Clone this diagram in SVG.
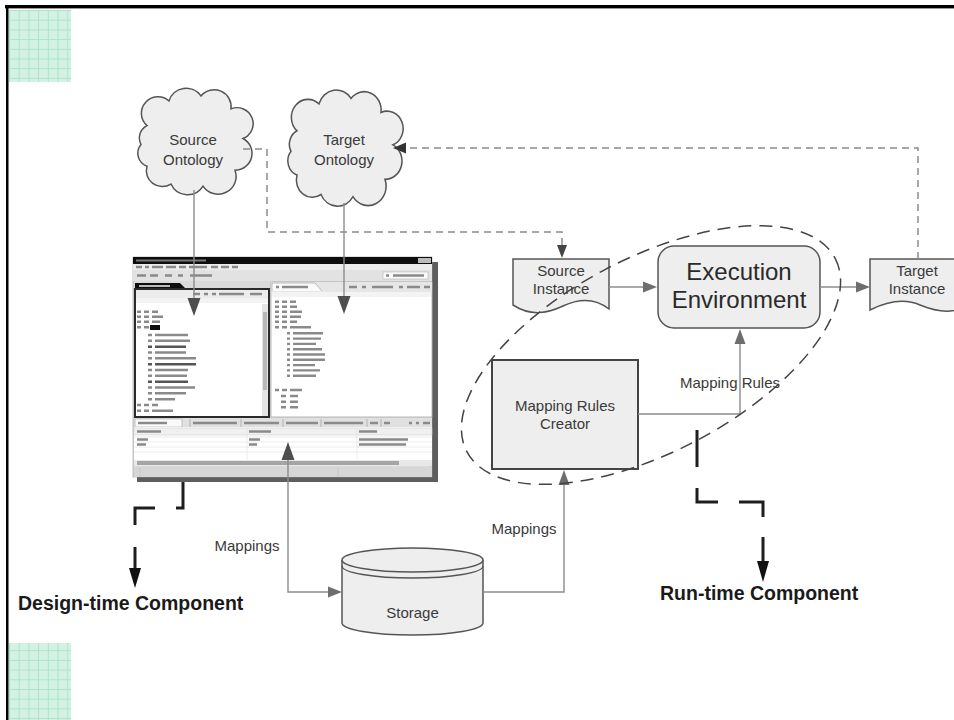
<svg xmlns="http://www.w3.org/2000/svg" width="954" height="720" viewBox="0 0 954 720">
  <style>
    .lbl { font-family: "Liberation Sans", Arial, sans-serif; font-size: 15px; fill: #3a3a3a; text-anchor: middle; }
    .big { font-family: "Liberation Sans", Arial, sans-serif; font-size: 24px; fill: #2a2a2a; text-anchor: middle; }
    .bold { font-family: "Liberation Sans", Arial, sans-serif; font-size: 19.5px; font-weight: bold; fill: #1a1a1a; }
    .shape { fill: #eeeeee; stroke: #555; stroke-width: 1.5; }
    .conn { fill: none; stroke: #8c8c8c; stroke-width: 1.4; }
    .dash { fill: none; stroke: #8c8c8c; stroke-width: 1.5; stroke-dasharray: 7 5; }
    .head { fill: #6e6e6e; }
    .panehead { fill: #4e4e4e; }
    .bighead { fill: #111; }
    .thick { fill: none; stroke: #1e1e1e; stroke-width: 3; }
    .txt { fill: none; stroke: #8a8a8a; stroke-width: 2.4; }
    .txtd { fill: none; stroke: #555; stroke-width: 2.4; }
  </style>
  <defs>
    <pattern id="grid" width="9.7" height="9.7" patternUnits="userSpaceOnUse" x="9" y="10">
      <rect width="9.7" height="9.7" fill="#d3f2e4"/>
      <path d="M0,0.5 H9.7 M0.5,0 V9.7" stroke="#ade3cb" stroke-width="1"/>
    </pattern>
    <filter id="soft" x="-5%" y="-5%" width="110%" height="110%">
      <feGaussianBlur stdDeviation="0.65"/>
    </filter>
    <path id="cloud" d="M8,35 A16,16 0 0 1 30,10 A18,18 0 0 1 62,5 A17,17 0 0 1 92,18 A16,16 0 0 1 104,48 A17,17 0 0 1 96,80 A18,18 0 0 1 64,96 A18,18 0 0 1 32,94 A16,16 0 0 1 8,76 A14,14 0 0 1 2,54 A14,14 0 0 1 8,35 Z"/>
  </defs>

  <!-- page frame and corner tiles -->
  <rect width="954" height="720" fill="#fff"/>
  <rect x="9" y="10" width="62" height="72" fill="url(#grid)"/>
  <rect x="9" y="643" width="62" height="77" fill="url(#grid)"/>
  <rect x="5" y="5" width="949" height="3" fill="#000"/>
  <rect x="5" y="8" width="949" height="1" fill="#999"/>
  <rect x="6" y="5" width="2.5" height="715" fill="#000"/>

  <!-- ontologies -->
  <g id="source-ontology">
    <use href="#cloud" class="shape" transform="translate(139,91) scale(1,0.99)"/>
    <text class="lbl" x="193" y="145">Source</text>
    <text class="lbl" x="193" y="165">Ontology</text>
  </g>
  <g id="target-ontology">
    <use href="#cloud" class="shape" transform="translate(289,93) scale(1,1.08)"/>
    <text class="lbl" x="344" y="145">Target</text>
    <text class="lbl" x="344" y="165">Ontology</text>
  </g>

  <!-- mapping editor window -->
  <g id="mapping-editor">
    <rect x="137" y="262" width="301" height="220" fill="#5e5e5e"/>
    <rect x="133" y="257" width="299" height="220" fill="#dadada" stroke="#9a9a9a" stroke-width="0.6"/>
    <g filter="url(#soft)">
      <rect x="133" y="257" width="299" height="7" fill="#111"/>
      <path d="M136,260.5 H206" stroke="#777" stroke-width="2"/>
      <rect x="418" y="258" width="13" height="5" fill="#bbb"/>
      <rect x="133" y="264" width="299" height="6" fill="#ececec"/>
      <path class="txt" d="M136,267 H142 M145,267 H149 M152,267 H163 M166,267 H176 M179,267 H186 M189,267 H207 M211,267 H218 M221,267 H229 M232,267 H238"/>
      <rect x="133" y="270" width="299" height="11" fill="#e2e2e2"/>
      <path class="txt" d="M137,275.5 H146 M150,275.5 H158 M165,275.5 H172 M178,275.5 H183 M190,275.5 H212"/>
      <rect x="383" y="272" width="45" height="7" fill="#fafafa" stroke="#aaa" stroke-width="0.5"/>
      <path class="txt" d="M386,275.5 H389 M393,275.5 H424"/>
      <!-- source pane -->
      <path d="M135,289 V283 H180 L186,289 Z" fill="#111"/>
      <path d="M139,286 H170" stroke="#bbb" stroke-width="2"/>
      <rect x="135" y="289" width="134" height="128" fill="#fff" stroke="#2a2a2a" stroke-width="2"/>
      <rect x="136" y="290" width="132" height="8" fill="#ececec"/>
      <path class="txt" d="M193,294 H200 M204,294 H208 M212,294 H216 M219,294 H244 M250,294 H262"/>
      <rect x="136" y="298" width="132" height="5" fill="#f3f3f3"/>
      <rect x="262" y="304" width="6" height="112" fill="#e4e4e4"/>
      <rect x="263" y="312" width="4" height="78" fill="#b8b8b8"/>
      <path class="txt" d="M137,311.7 H141 M144,311.7 H149 M152,311.7 H158 M137,316.7 H141 M144,316.7 H149 M152,316.7 H163 M137,321.7 H141 M144,321.7 H149 M152,321.7 H160 M137,327.3 H141 M144,327.3 H149"/>
      <rect x="150" y="325" width="10" height="5" fill="#111"/>
      <path class="txt" d="M148,335 H152 M155,335 H188 M148,340.8 H152 M155,340.8 H190 M148,352.5 H152 M155,352.5 H186 M148,358.3 H152 M155,358.3 H196 M148,370 H152 M155,370 H188 M148,375.8 H152 M155,375.8 H187 M148,387.5 H152 M155,387.5 H195 M148,393.3 H152 M155,393.3 H186 M148,399.2 H152 M155,399.2 H175 M137,405 H141 M144,405 H149 M152,405 H158 M137,410.8 H141 M144,410.8 H149 M152,410.8 H173"/>
      <path class="txtd" d="M148,346.7 H152 M155,346.7 H186 M148,364.2 H152 M155,364.2 H196 M148,381.7 H152 M155,381.7 H188"/>
      <!-- target pane -->
      <rect x="271" y="282" width="161" height="135" fill="#fff" stroke="#a8a8a8" stroke-width="0.8"/>
      <rect x="271" y="282" width="161" height="10" fill="#e6e6e6"/>
      <path d="M272,291 V283 H315 L322,291" fill="#fafafa" stroke="#999" stroke-width="0.6"/>
      <path class="txt" d="M276,287 H279 M282,287 H308 M349,287 H357 M362,287 H366 M372,287 H393 M399,287 H403 M407,287 H420 M424,287 H430"/>
      <rect x="272" y="292" width="159" height="5" fill="#f3f3f3"/>
      <path class="txt" d="M275,301.7 H279 M282,301.7 H287 M290,301.7 H296 M275,306.7 H279 M282,306.7 H287 M290,306.7 H297 M275,311.7 H279 M282,311.7 H287 M290,311.7 H302 M275,316.7 H279 M282,316.7 H287 M290,316.7 H301 M275,321.7 H279 M282,321.7 H287 M290,321.7 H297 M275,327.3 H279 M282,327.3 H287 M290,327.3 H311"/>
      <path class="txt" d="M287,333.3 H290 M293,333.3 H323 M287,338.6 H290 M293,338.6 H321 M287,343.9 H290 M293,343.9 H316 M287,349.2 H290 M293,349.2 H322 M287,354.5 H290 M293,354.5 H325 M287,359.8 H290 M293,359.8 H325 M287,365.1 H290 M293,365.1 H315 M287,370.4 H290 M293,370.4 H320 M287,375.7 H290 M293,375.7 H316 M275,390 H279 M282,390 H287 M290,390 H302 M281,396 H286 M290,396 H298 M281,401.7 H286 M290,401.7 H298 M281,407.3 H286 M290,407.3 H298"/>
      <!-- mappings table -->
      <rect x="134" y="418" width="298" height="9" fill="#e0e0e0"/>
      <rect x="135" y="419" width="47" height="8" fill="#fafafa" stroke="#999" stroke-width="0.5"/>
      <path d="M190,419 V427 M241,419 V427 M283,419 V427 M321,419 V427 M367,419 V427 M381,419 V427" stroke="#999" stroke-width="0.6"/>
      <path class="txt" d="M138,423 H167 M193,423 H237 M244,423 H279 M286,423 H318 M324,423 H363 M370,423 H378 M384,423 H390 M409,423 H412 M416,423 H419 M423,423 H430"/>
      <rect x="134" y="427" width="298" height="33" fill="#fff"/>
      <rect x="134" y="428" width="298" height="7" fill="#f0f0f0" stroke="#c8c8c8" stroke-width="0.5"/>
      <path d="M247,428 V460 M357,428 V460 M134,437 H432 M134,442 H432 M134,447 H432 M134,452 H432" stroke="#dedede" stroke-width="0.6"/>
      <path class="txt" d="M137,431.5 H161 M249,431.5 H271 M359,431.5 H377 M137,439.5 H148 M249,439.5 H260 M359,439.5 H408 M137,444.5 H146 M249,444.5 H257 M359,444.5 H406" stroke-width="1.8"/>
      <rect x="134" y="460" width="298" height="6" fill="#e8e8e8"/>
      <rect x="137" y="461" width="262" height="4" fill="#a5a5a5"/>
      <rect x="134" y="467" width="298" height="10" fill="#d6d6d6"/>
      <path d="M140,467 V477 M338,467 V477" stroke="#c2c2c2" stroke-width="0.6"/>
    </g>
  </g>

  <!-- storage -->
  <g id="storage">
    <path class="shape" d="M342,560 V623 A70.5,12 0 0 0 483,623 V560"/>
    <ellipse class="shape" cx="412.5" cy="560" rx="70.5" ry="12"/>
    <path d="M342,566 A70.5,12 0 0 0 483,566" fill="none" stroke="#555" stroke-width="1.3"/>
    <text class="lbl" x="412.5" y="618">Storage</text>
  </g>

  <!-- run-time nodes -->
  <g id="source-instance">
    <path class="shape" d="M513,259 H609 V309 C595,298 580,298 563,306 C546,314 530,316 513,305 Z"/>
    <text class="lbl" x="561" y="276">Source</text>
    <text class="lbl" x="561" y="294">Instance</text>
  </g>
  <g id="execution-environment">
    <rect class="shape" x="658" y="246" width="162" height="82" rx="16"/>
    <text class="big" x="739" y="280">Execution</text>
    <text class="big" x="739" y="308">Environment</text>
  </g>
  <g id="target-instance">
    <path class="shape" d="M870,259 H966 V306 C953,314 937,312 920,305 C904,298 888,301 870,310 Z"/>
    <text class="lbl" x="917" y="276">Target</text>
    <text class="lbl" x="917" y="294">Instance</text>
  </g>
  <g id="mapping-rules-creator">
    <rect x="492" y="360" width="146" height="109" fill="#eeeeee" stroke="#444" stroke-width="2"/>
    <text class="lbl" x="565" y="411">Mapping Rules</text>
    <text class="lbl" x="565" y="429">Creator</text>
  </g>

  <!-- connectors, drawn above the nodes -->
  <g id="connectors">
    <!-- ontology -> editor panes -->
    <path class="conn" d="M194,190 V300"/>
    <path class="panehead" d="M194,316 L187.5,298 L200.5,298 Z"/>
    <path class="conn" d="M344,203 V298"/>
    <path class="panehead" d="M344,314 L337.5,296 L350.5,296 Z"/>
    <!-- editor <-> storage -->
    <path class="conn" d="M288,458 V592 H330"/>
    <path class="panehead" d="M288,442 L281.5,460 L294.5,460 Z"/>
    <path class="head" d="M342,592 L328,586.5 L328,597.5 Z"/>
    <!-- storage -> rules creator -->
    <path class="conn" d="M483,592 H564 V484"/>
    <path class="head" d="M564,470 L558.5,485 L569.5,485 Z"/>
    <!-- rules creator -> execution environment -->
    <path class="conn" d="M638,414 H740 V342"/>
    <path class="head" d="M740,329 L734.5,344 L745.5,344 Z"/>
    <!-- instances through the execution environment -->
    <path class="conn" d="M609,287 H645"/>
    <path class="head" d="M657,287 L643,281.5 L643,292.5 Z"/>
    <path class="conn" d="M820,287 H858"/>
    <path class="head" d="M870,287 L856,281.5 L856,292.5 Z"/>
    <!-- dashed flows -->
    <path class="dash" d="M243,149 H267 V232 H562 V246"/>
    <path d="M562,258 L557,245 L567,245 Z" fill="#444"/>
    <path class="dash" d="M918,259 V148 H404"/>
    <path d="M393,148 L406,142.5 L406,153.5 Z" fill="#333"/>
    <!-- component markers -->
    <path class="thick" d="M183,482 V508 H176"/>
    <path class="thick" d="M155,508 H135 V525"/>
    <path class="thick" d="M135,547 V572"/>
    <path class="bighead" d="M135,588 L129,568 L141,568 Z"/>
    <path class="thick" d="M697,430 V467"/>
    <path class="thick" d="M697,488 V502 H718"/>
    <path class="thick" d="M739,502 H763 V517"/>
    <path class="thick" d="M763,537 V565"/>
    <path class="bighead" d="M763,582 L757,561 L769,561 Z"/>
    <!-- run-time boundary -->
    <ellipse cx="651" cy="355" rx="208" ry="97" transform="rotate(-27.7 651 355)" fill="none" stroke="#444" stroke-width="1.5" stroke-dasharray="13 8"/>
  </g>

  <!-- connector labels -->
  <g id="labels">
    <text class="lbl" x="247" y="551">Mappings</text>
    <text class="lbl" x="524" y="534">Mappings</text>
    <text class="lbl" x="730" y="388">Mapping Rules</text>
    <text class="bold" x="18" y="610">Design-time Component</text>
    <text class="bold" x="660" y="600">Run-time Component</text>
  </g>
</svg>
